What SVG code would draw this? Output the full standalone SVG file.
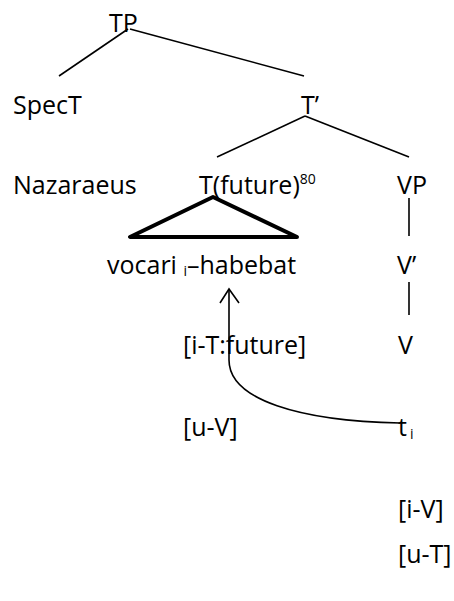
<svg xmlns="http://www.w3.org/2000/svg" width="454" height="601" viewBox="0 0 454 601">
<style>
text{font-family:"Open Sans","Liberation Sans",sans-serif;font-size:25px;fill:#000}
.sub{font-size:14px}
.edge{stroke:#000;stroke-width:1.6;fill:none}
</style>
<rect width="454" height="601" fill="#fff"/>
<g id="connectors">
<line class="edge" x1="128" y1="29" x2="59" y2="76"/>
<line class="edge" x1="130" y1="29" x2="304" y2="76"/>
<line class="edge" x1="305" y1="116" x2="217" y2="157"/>
<line class="edge" x1="305" y1="116" x2="409" y2="157"/>
<line class="edge" x1="409" y1="198" x2="409" y2="236"/>
<line class="edge" x1="409" y1="282" x2="409" y2="315"/>
<path class="edge" d="M400,423 C300,421 229,400 229,360 L229,289"/>
<path class="edge" d="M220,303 L229,289 L239,303"/>
</g>
<g id="TP"><text x="109" y="32">TP</text></g>
<g id="SpecT"><text x="13" y="114">SpecT</text></g>
<g id="Tbar"><text x="301" y="114">T’</text></g>
<g id="Nazaraeus"><text x="13" y="194">Nazaraeus</text></g>
<g id="T"><text x="199" y="194">T(future)<tspan class="sub" dy="-10">80</tspan></text></g>
<g id="VP"><text x="397" y="194">VP</text></g>
<g id="triangle"><polygon points="213,197 130,237 297,237" fill="none" stroke="#000" stroke-width="4" stroke-linejoin="round"/></g>
<g id="vocari"><text x="107" y="274">vocari <tspan class="sub" dy="2">i</tspan><tspan dy="-2">–habebat</tspan></text></g>
<g id="Vbar"><text x="397" y="274">V’</text></g>
<g id="iT"><text x="183" y="354">[i-T:future]</text></g>
<g id="V"><text x="398" y="354">V</text></g>
<g id="uV"><text x="183" y="436">[u-V]</text></g>
<g id="ti"><text x="398" y="436">t<tspan class="sub" dx="3" dy="3">i</tspan></text></g>
<g id="iV"><text x="398" y="518">[i-V]</text></g>
<g id="uT"><text x="398" y="563">[u-T]</text></g>
</svg>
